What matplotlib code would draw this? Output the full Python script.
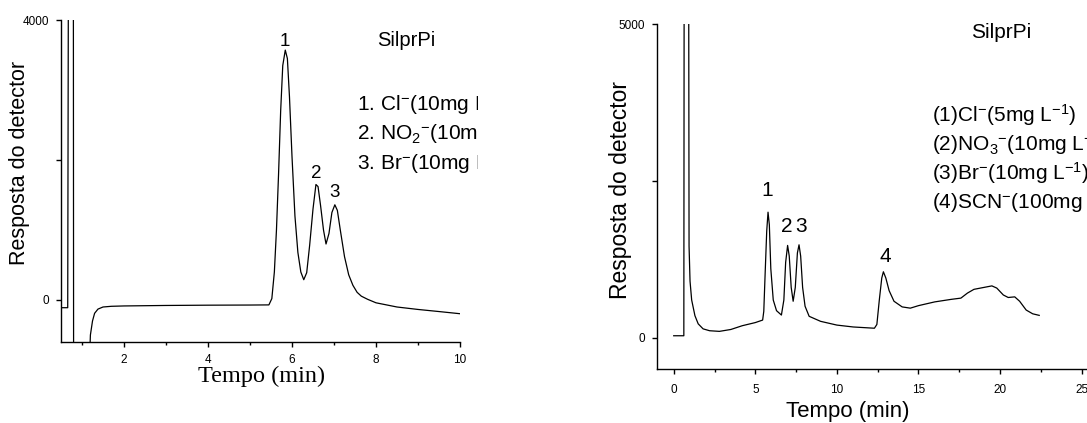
"""two ion chromatograms side by side (SilprPi column)"""

# == imports ==
import matplotlib
matplotlib.use('Agg')
import matplotlib.pyplot as plt
from matplotlib.transforms import Bbox, TransformedBbox

plt.rcParams['font.family'] = ['Liberation Sans', 'DejaVu Sans']
plt.rcParams['mathtext.fontset'] = 'custom'
plt.rcParams['mathtext.rm'] = 'Liberation Sans'
plt.rcParams['mathtext.it'] = 'Liberation Sans:italic'
plt.rcParams['mathtext.bf'] = 'Liberation Sans:bold'

# == data ==
# left chromatogram: Cl-, NO2-, Br-
t_left = [0.5, 0.66, 0.69, 0.79, 0.80, 1.17, 1.20, 1.25, 1.30, 1.38, 1.50, 1.70,
          2.0, 3.0, 4.0, 5.0, 5.45, 5.52, 5.58, 5.63, 5.68, 5.73, 5.78, 5.84,
          5.89, 5.94, 6.00, 6.07, 6.14, 6.21, 6.28, 6.35, 6.42, 6.50, 6.57,
          6.62, 6.68, 6.75, 6.81, 6.88, 6.95, 7.02, 7.08, 7.15, 7.25, 7.35,
          7.45, 7.55, 7.65, 7.80, 8.0, 8.5, 9.0, 9.5, 10.0]
y_left = [-110, -110, 9000, 9000, -1000, -1000, -500, -300, -190, -130, -100, -90,
          -85, -78, -74, -72, -70, 20, 400, 1000, 1800, 2700, 3350, 3570,
          3450, 2900, 2050, 1200, 680, 400, 290, 390, 780, 1300, 1650,
          1620, 1350, 1000, 800, 950, 1250, 1360, 1280, 1000, 620, 360,
          210, 110, 55, 10, -40, -100, -135, -165, -196]
peaks_left = ['1', '2', '3']
peak_x_left = [5.83, 6.57, 7.02]
peak_y_left = [3690, 1800, 1540]
legend_left = [r'1. Cl$^{-}$(10mg L$^{-1}$)',
               r'2. NO$_2$$^{-}$(10mg L$^{-1}$)',
               r'3. Br$^{-}$(10mg L$^{-1}$)']

# right chromatogram: Cl-, NO3-, Br-, SCN-
t_right = [0.0, 0.62, 0.65, 0.90, 0.94, 1.0, 1.1, 1.3, 1.5, 1.8, 2.2, 2.8, 3.5,
           4.2, 5.0, 5.45, 5.52, 5.60, 5.70, 5.78, 5.86, 5.95, 6.10, 6.30, 6.60,
           6.75, 6.86, 6.98, 7.08, 7.20, 7.32, 7.45, 7.58, 7.68, 7.78, 7.90,
           8.05, 8.30, 9.0, 10.0, 11.0, 12.3, 12.45, 12.6, 12.75, 12.85, 13.0,
           13.2, 13.5, 14.0, 14.5, 15.0, 16.0, 17.0, 17.6, 18.0, 18.4, 19.0,
           19.5, 19.8, 20.2, 20.5, 20.9, 21.2, 21.6, 22.0, 22.4]
y_right = [30, 30, 9000, 9000, 1460, 900, 600, 350, 220, 140, 110, 100, 130,
           190, 240, 280, 420, 1000, 1700, 2000, 1800, 1100, 600, 430, 360,
           600, 1200, 1470, 1300, 800, 580, 800, 1350, 1480, 1300, 800,
           500, 340, 260, 200, 170, 150, 210, 600, 950, 1050, 950,
           750, 580, 490, 470, 510, 570, 610, 630, 710, 770, 800,
           825, 790, 680, 640, 650, 580, 440, 380, 355]
peaks_right = ['1', '2', '3', '4']
peak_x_right = [5.74, 6.93, 7.80, 12.95]
peak_y_right = [2350, 1770, 1770, 1290]
legend_right = [r'(1)Cl$^{-}$(5mg L$^{-1}$)',
                r'(2)NO$_3$$^{-}$(10mg L$^{-1}$)',
                r'(3)Br$^{-}$(10mg L$^{-1}$)',
                r'(4)SCN$^{-}$(100mg L$^{-1}$)']

# == figure ==
W, H = 1087, 423
fig = plt.figure(figsize=(W / 100, H / 100), dpi=100)
fig.patch.set_facecolor('white')


def px_rect(x0, y0, x1, y1):
    # pixel box (top-left origin) -> figure fraction rect
    return [x0 / W, 1 - y1 / H, (x1 - x0) / W, (y1 - y0) / H]


def style_axes(ax):
    for side in ['top', 'right']:
        ax.spines[side].set_visible(False)
    for side in ['left', 'bottom']:
        ax.spines[side].set_linewidth(1.0)
    ax.tick_params(which='major', direction='out', length=3.8, width=1.0,
                   labelsize=8.5, pad=5)
    ax.tick_params(which='minor', direction='out', length=2.5, width=1.0)


# -- left panel --
ax1 = fig.add_axes(px_rect(61, 20, 460, 342))
ax1.plot(t_left, y_left, color='black', lw=0.9)
ax1.set_xlim(0.5, 10)
ax1.set_ylim(-600, 4000)
style_axes(ax1)
ax1.set_xticks([2, 4, 6, 8, 10])
ax1.set_xticks([1, 3, 5, 7, 9], minor=True)
ax1.set_yticks([0, 2000, 4000])
ax1.set_yticklabels(['0', '', '4000'])
ax1.tick_params(axis='y', pad=5)
for lab, px, py in zip(peaks_left, peak_x_left, peak_y_left):
    ax1.text(px, py, lab, fontsize=13.5, ha='center', va='center')
ax1.text(0.865, 0.935, 'SilprPi', transform=ax1.transAxes, fontsize=14.5,
         ha='center', va='center')
clip = TransformedBbox(Bbox([[0, 0], [478 / W, 1]]), fig.transFigure)
for i, line in enumerate(legend_left):
    t = ax1.text(357 / W, 1 - (111 + 29.2 * i) / H, line, transform=fig.transFigure,
                 fontsize=15, ha='left', va='baseline')
    t.set_clip_box(clip)
    t.set_clip_on(True)
fig.text(261.7 / W, 1 - 376.7 / H, 'Tempo (min)', fontsize=17.5, ha='center',
         va='center', family=['Liberation Serif', 'DejaVu Serif'])
fig.text(20 / W, 1 - 163 / H, 'Resposta do detector', fontsize=15.5,
         rotation=90, ha='center', va='center')

# -- right panel --
ax2 = fig.add_axes(px_rect(657.4, 24, 657.4 + 27 * 16.317, 369))
ax2.plot(t_right, y_right, color='black', lw=0.9)
ax2.set_xlim(-1, 26)
ax2.set_ylim(-500, 5000)
style_axes(ax2)
ax2.set_xticks([0, 5, 10, 15, 20, 25])
ax2.set_xticks([2.5, 7.5, 12.5, 17.5, 22.5], minor=True)
ax2.set_yticks([0, 2500, 5000])
ax2.set_yticklabels(['0', '', '5000'])
ax2.tick_params(axis='x', pad=7)
ax2.tick_params(axis='y', pad=5)
for lab, px, py in zip(peaks_right, peak_x_right, peak_y_right):
    ax2.text(px, py, lab, fontsize=15, ha='center', va='center')
ax2.text(0.781, 0.974, 'SilprPi', transform=ax2.transAxes, fontsize=15,
         ha='center', va='center')
for i, line in enumerate(legend_right):
    ax2.text(932 / W, 1 - (121.5 + 29 * i) / H, line, transform=fig.transFigure,
             fontsize=15, ha='left', va='baseline')
fig.text(848 / W, 1 - 411 / H, 'Tempo (min)', fontsize=16, ha='center', va='center')
fig.text(620 / W, 1 - 190 / H, 'Resposta do detector', fontsize=16.5,
         rotation=90, ha='center', va='center')

fig.savefig('out.png', dpi=100)
